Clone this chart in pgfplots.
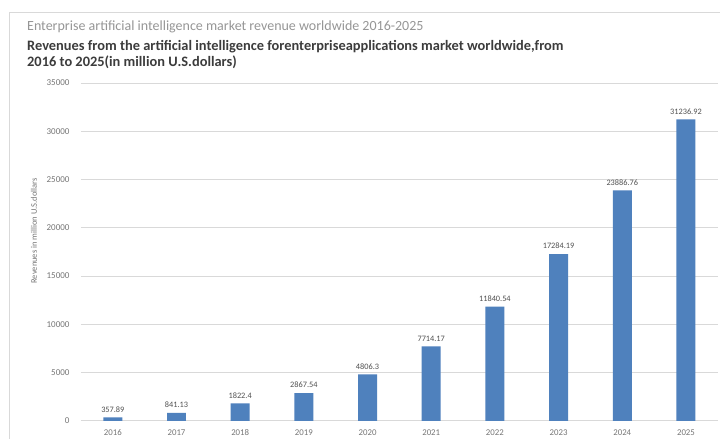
\documentclass[border=0pt]{standalone}
\usepackage{fontspec}
\setmainfont{Carlito}
\usepackage{pgfplots}
\pgfplotsset{compat=1.18}
\definecolor{barblue}{RGB}{79,129,189}
\definecolor{gridgray}{RGB}{217,217,217}
\definecolor{ticktext}{RGB}{118,118,118}
\definecolor{labeltext}{RGB}{80,80,80}
\definecolor{titlegray}{RGB}{150,150,150}
\definecolor{titledark}{RGB}{60,60,60}
\begin{document}
\begin{tikzpicture}
\fill[white] (0pt,0pt) rectangle (720pt,439pt);
\draw[gridgray] (9pt,0pt) -- (9pt,427pt) -- (720pt,427pt);
\node[anchor=base west, inner sep=0, text=titlegray, font=\fontsize{14}{16}\selectfont] at (27pt,408pt) {Enterprise artificial intelligence market revenue worldwide 2016-2025};
\node[anchor=base west, inner sep=0, text=titledark, font=\fontsize{14.4}{16}\selectfont\bfseries] at (27pt,388pt) {Revenues from the artificial intelligence forenterpriseapplications market worldwide,from};
\node[anchor=base west, inner sep=0, text=titledark, font=\fontsize{14.4}{16}\selectfont\bfseries] at (27pt,372pt) {2016 to 2025(in million U.S.dollars)};
\node[rotate=90, inner sep=0, text=ticktext, font=\fontsize{8.5}{10}\selectfont] at (34pt,208pt) {Revenues in million U.S.dollars};
\begin{axis}[
  at={(81pt,18pt)}, anchor=south west,
  scale only axis, width=637pt, height=338pt,
  xmin=-0.5, xmax=9.5, ymin=0, ymax=35000,
  ybar, bar width=19pt,
  axis line style={draw=none},
  major tick length=0pt,
  xtick=data,
  xticklabels={2016,2017,2018,2019,2020,2021,2022,2023,2024,2025},
  ytick={0,5000,...,35000},
  ymajorgrids, grid style={gridgray, line width=0.8pt},
  scaled y ticks=false,
  /pgf/number format/assume math mode=true,
  /pgf/number format/1000 sep={},
  yticklabel style={text=ticktext, font=\fontsize{9}{10}\selectfont, xshift=-8pt},
  xticklabel style={text=ticktext, font=\fontsize{8.8}{10}\selectfont, yshift=-5pt},
  point meta=explicit symbolic,
  nodes near coords,
  nodes near coords style={text=labeltext, font=\fontsize{8.3}{10}\selectfont, inner sep=5pt},
  clip=false,
]
\addplot[fill=barblue, draw=none] coordinates {
  (0,357.89)[357.89]
  (1,841.13)[841.13]
  (2,1822.4)[1822.4]
  (3,2867.54)[2867.54]
  (4,4806.3)[4806.3]
  (5,7714.17)[7714.17]
  (6,11840.54)[11840.54]
  (7,17284.19)[17284.19]
  (8,23886.76)[23886.76]
  (9,31236.92)[31236.92]
};
\end{axis}
\end{tikzpicture}
\end{document}
